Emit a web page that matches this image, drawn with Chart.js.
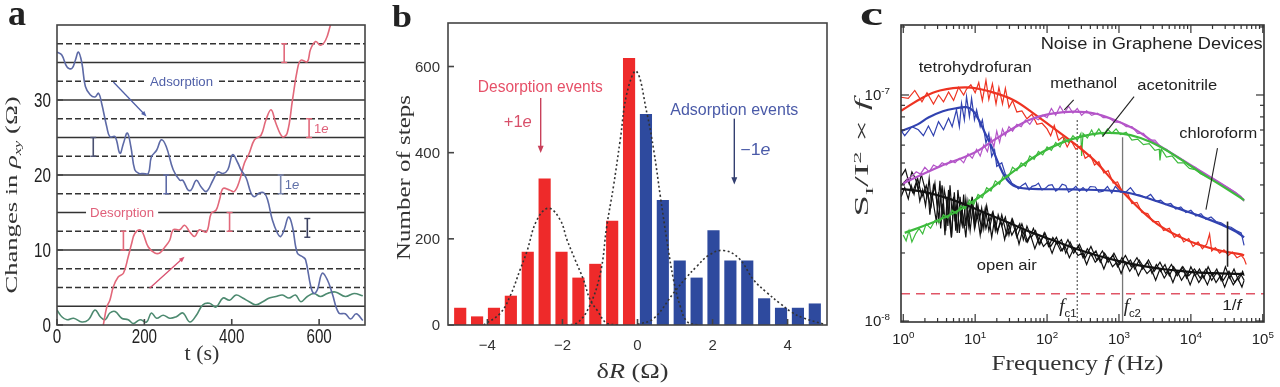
<!DOCTYPE html>
<html>
<head>
<meta charset="utf-8">
<script src="https://cdn.jsdelivr.net/npm/chart.js@4.4.1/dist/chart.umd.min.js"></script>
<style>
  html, body { margin: 0; padding: 0; background: #fff; }
  #wrap { position: relative; width: 1280px; height: 387px; overflow: hidden; }
  canvas { position: absolute; top: 0; }
</style>
</head>
<body>
<div id="wrap">
  <canvas id="chartA" width="370" height="387" style="left:0"></canvas>
  <canvas id="chartB" width="465" height="387" style="left:370px"></canvas>
  <canvas id="chartC" width="445" height="387" style="left:835px"></canvas>
</div>
<script>
const SERIF = "'Liberation Serif', 'Times New Roman', serif";
const SANS = "'Liberation Sans', Arial, sans-serif";

// ---------- panel a : changes in rho_xy against time ----------
const aXTicks = [0, 200, 400, 600];
const aYTicks = [0, 10, 20, 30];
const aSolidLevels = [2.5, 10, 15, 20, 25, 30, 35];
const aDashedLevels = [5, 7.5, 12.5, 17.5, 22.5, 27.5, 32.5, 37.5];
// [t (s), change in rho_xy (ohm)]
const aAdsorption = [[0,36.4],[11,36],[23,34.4],[34,34.2],[42,35.3],[49,36.4],[57,34.9],[65,31.8],[76,30.7],[87,30.4],[95,30.9],[102,29.6],[114,26.4],[121,25.1],[133,25.1],[144,22.9],[152,24.2],[161,25.6],[169,23.8],[178,20.7],[188,20.2],[197,20.2],[209,20.2],[216,22.4],[228,23.3],[239,24.7],[250,23.8],[266,20.7],[281,19.3],[288,19.3],[300,18],[307,18],[319,19.3],[330,18.4],[342,17.8],[357,19.3],[368,20.4],[380,20.2],[391,20.7],[402,22.7],[414,21.6],[421,20.7],[433,19.6],[444,17.6],[452,17.1],[463,17.6],[474,17.6],[482,16.7],[493,14],[505,12.2],[512,11.8],[520,12.7],[530,14.4],[539,13.1],[550,9.6],[562,9.1],[569,8.7],[581,5.1],[588,4.2],[596,4.7],[607,6.9],[619,6],[630,4.2],[645,1.6],[660,1.5],[672,0.8],[685,1.5],[700,0.6]];
const aDesorption = [[106,0],[114,2.4],[121,3.3],[129,5.1],[140,6.4],[152,6.9],[163,9.1],[171,10.9],[178,12.2],[190,12.7],[197,12.2],[209,10.4],[224,9.6],[235,9.6],[247,10.4],[258,11.3],[266,12.7],[281,12.7],[292,13.3],[304,12.4],[315,11.8],[326,12.7],[342,12.4],[353,14.9],[364,15.3],[372,16.7],[380,18.2],[395,18],[406,17.8],[417,19.1],[429,21.6],[440,22.9],[452,24.7],[467,25.3],[478,27.3],[490,28.7],[501,26.9],[516,25.1],[527,25.6],[539,30],[550,34],[558,35.3],[573,35.1],[580,36.7],[592,37.8],[603,37.3],[615,38],[626,40],[640,42.5]];
const aReference = [[0,2],[11,1.1],[23,0.7],[38,0.9],[57,0.4],[72,0.7],[87,2],[99,1.1],[110,0.7],[121,1.6],[133,1.8],[148,0.9],[163,0.7],[175,0.2],[190,0.7],[205,0.4],[216,1.6],[228,0.9],[243,1.3],[258,0.9],[273,1.1],[288,1.6],[304,0.4],[319,1.3],[334,2.7],[349,2.9],[364,2.4],[380,3.6],[395,3.3],[410,4],[425,3.6],[440,3.1],[455,2.7],[471,3.1],[486,3.6],[501,3.8],[516,4],[531,3.6],[546,4],[558,3.1],[573,3.8],[588,4.2],[603,3.8],[619,4.2],[637,4.4],[660,3.8],[680,4.2],[700,3.9]];

// ---------- panel b : histogram of step sizes ----------
const bXTicks = [-4, -2, 0, 2, 4];
const bYTicks = [0, 200, 400, 600];
const bDesorbBins = [-4.725, -4.275, -3.825, -3.375, -2.925, -2.475, -2.025, -1.575, -1.125, -0.675, -0.225];
const bDesorbCounts = [40, 20, 40, 68, 170, 340, 170, 110, 142, 242, 620];
const bAdsorbBins = [0.225, 0.675, 1.125, 1.575, 2.025, 2.475, 2.925, 3.375, 3.825, 4.275, 4.725];
const bAdsorbCounts = [490, 290, 150, 110, 220, 150, 150, 62, 40, 40, 50];
const bFitLeft = [[-4.1,0],[-3.66,27],[-3.39,68],[-3.13,128],[-2.95,170],[-2.68,244],[-2.37,271],[-2.06,244],[-1.88,198],[-1.66,151],[-1.44,105],[-1.26,58],[-1.08,35],[-0.82,4],[-0.5,0]];
const bFitMid = [[-1.9,0],[-1.62,4],[-1.3,40],[-0.99,120],[-0.82,229],[-0.64,322],[-0.46,430],[-0.28,539],[-0.03,589],[0.25,492],[0.43,407],[0.61,298],[0.78,198],[0.96,105],[1.14,43],[1.32,8],[1.6,0]];
const bFitRight = [[0,1],[0.43,15],[0.96,74],[1.3,110],[1.58,136],[1.9,162],[2.29,173],[2.7,155],[3.09,105],[3.45,75],[3.8,50],[4.1,30],[4.43,16],[4.96,2]];

// ---------- panel c : noise spectra, pairs are [log10 f, log10(S / 1e-8)] ----------
const cXTicks = [1, 10, 100, 1e3, 1e4, 1e5];
const cYTicks = [1e-8, 1e-7];
const thfFit = [[-0.03,0.93],[0.28,0.99],[0.51,1.02],[0.88,1.034],[1.21,1.015],[1.53,0.978],[1.81,0.919],[2.09,0.853],[2.37,0.787],[2.65,0.713],[2.93,0.615],[3.21,0.52],[3.53,0.43],[3.86,0.37],[4.14,0.335],[4.42,0.31],[4.70,0.295],[4.74,0.29]];
const thfData = [[-0.03,0.99],[0.07,0.985],[0.16,1.02],[0.26,0.97],[0.33,1.01],[0.42,0.96],[0.49,1.0],[0.56,0.97],[0.63,1.013],[0.70,0.976],[0.77,1.034],[0.84,1.0],[0.88,1.026],[0.94,1.045],[1.0,1.01],[1.05,1.055],[1.10,0.975],[1.15,1.065],[1.19,0.98],[1.24,1.05],[1.29,0.96],[1.33,1.034],[1.38,0.96],[1.42,1.03],[1.47,0.945],[1.52,0.975],[1.58,0.925],[1.65,0.93],[1.72,0.895],[1.79,0.915],[1.86,0.87],[1.93,0.875],[2.0,0.85],[2.05,0.82],[2.10,0.865],[2.16,0.80],[2.22,0.815],[2.28,0.77],[2.33,0.80],[2.40,0.76],[2.47,0.775],[2.53,0.72],[2.60,0.735],[2.66,0.69],[2.72,0.705],[2.79,0.655],[2.85,0.665],[2.92,0.61],[2.98,0.615],[3.05,0.57],[3.12,0.565],[3.18,0.52],[3.25,0.525],[3.32,0.48],[3.40,0.475],[3.47,0.44],[3.55,0.44],[3.62,0.40],[3.70,0.41],[3.77,0.37],[3.84,0.385],[3.90,0.35],[3.97,0.365],[4.03,0.33],[4.10,0.35],[4.16,0.32],[4.22,0.34],[4.26,0.385],[4.29,0.31],[4.34,0.325],[4.40,0.30],[4.46,0.315],[4.52,0.29],[4.58,0.305],[4.64,0.28],[4.70,0.29],[4.74,0.275],[4.77,0.25]];
const chlFit = [[-0.03,0.84],[0.2,0.87],[0.35,0.9],[0.55,0.928],[0.75,0.942],[0.88,0.946],[0.97,0.93],[1.05,0.89],[1.14,0.83],[1.23,0.77],[1.32,0.7],[1.42,0.635],[1.53,0.6],[1.72,0.586],[2.37,0.582],[3.0,0.574],[3.3,0.553],[3.58,0.524],[3.86,0.494],[4.14,0.463],[4.42,0.427],[4.63,0.395],[4.74,0.37]];
const chlData = [[-0.07,0.86],[0.02,0.82],[0.12,0.86],[0.21,0.846],[0.28,0.82],[0.35,0.863],[0.42,0.82],[0.49,0.882],[0.56,0.846],[0.63,0.897],[0.68,0.86],[0.74,0.934],[0.78,0.86],[0.81,0.963],[0.85,0.89],[0.88,0.993],[0.92,0.904],[0.95,0.985],[0.99,0.89],[1.02,0.934],[1.07,0.86],[1.10,0.89],[1.15,0.787],[1.19,0.83],[1.23,0.728],[1.27,0.757],[1.30,0.684],[1.37,0.7],[1.42,0.65],[1.47,0.632],[1.51,0.61],[1.56,0.6],[1.60,0.585],[1.65,0.6],[1.70,0.61],[1.75,0.58],[1.79,0.596],[1.84,0.6],[1.88,0.61],[1.93,0.58],[1.98,0.588],[2.02,0.6],[2.07,0.603],[2.12,0.575],[2.16,0.584],[2.21,0.605],[2.26,0.6],[2.30,0.57],[2.35,0.581],[2.40,0.596],[2.45,0.575],[2.50,0.59],[2.55,0.574],[2.60,0.595],[2.67,0.593],[2.72,0.57],[2.78,0.574],[2.84,0.595],[2.90,0.566],[2.95,0.596],[3.02,0.57],[3.09,0.569],[3.16,0.59],[3.23,0.56],[3.30,0.556],[3.37,0.545],[3.44,0.56],[3.51,0.53],[3.58,0.535],[3.65,0.515],[3.72,0.52],[3.79,0.495],[3.86,0.505],[3.93,0.48],[4.0,0.49],[4.07,0.465],[4.14,0.475],[4.21,0.45],[4.28,0.46],[4.35,0.44],[4.42,0.435],[4.49,0.42],[4.56,0.415],[4.63,0.4],[4.70,0.39],[4.74,0.335]];
const metFit = [[0.0,0.61],[0.51,0.684],[0.98,0.743],[1.26,0.80],[1.53,0.853],[1.81,0.897],[2.09,0.919],[2.37,0.926],[2.65,0.919],[2.93,0.89],[3.21,0.85],[3.49,0.79],[3.77,0.735],[4.05,0.68],[4.33,0.625],[4.60,0.57],[4.74,0.535]];
const metData = [[0.0,0.60],[0.06,0.63],[0.12,0.64],[0.18,0.66],[0.24,0.65],[0.30,0.68],[0.36,0.66],[0.42,0.69],[0.48,0.68],[0.54,0.70],[0.60,0.69],[0.66,0.71],[0.72,0.70],[0.78,0.72],[0.84,0.70],[0.90,0.74],[0.96,0.72],[1.02,0.76],[1.07,0.73],[1.12,0.78],[1.17,0.75],[1.22,0.81],[1.26,0.77],[1.30,0.84],[1.34,0.79],[1.38,0.85],[1.42,0.82],[1.47,0.86],[1.52,0.84],[1.58,0.87],[1.64,0.86],[1.70,0.89],[1.76,0.87],[1.82,0.90],[1.88,0.89],[1.94,0.91],[2.0,0.90],[2.06,0.94],[2.12,0.91],[2.18,0.95],[2.24,0.92],[2.30,0.95],[2.36,0.92],[2.42,0.94],[2.48,0.91],[2.55,0.93],[2.62,0.91],[2.70,0.92],[2.78,0.90],[2.86,0.90],[2.94,0.88],[3.02,0.88],[3.10,0.86],[3.18,0.86],[3.26,0.83],[3.34,0.83],[3.42,0.80],[3.50,0.80],[3.58,0.77],[3.66,0.76],[3.74,0.74],[3.82,0.725],[3.90,0.71],[3.98,0.69],[4.06,0.68],[4.14,0.66],[4.22,0.645],[4.30,0.63],[4.38,0.615],[4.46,0.60],[4.54,0.585],[4.62,0.57],[4.70,0.55],[4.74,0.53]];
const aceFit = [[0.02,0.39],[0.28,0.42],[0.51,0.449],[0.79,0.493],[1.07,0.551],[1.35,0.618],[1.63,0.684],[1.91,0.743],[2.19,0.787],[2.47,0.816],[2.74,0.831],[3.02,0.83],[3.30,0.81],[3.58,0.77],[3.86,0.715],[4.14,0.655],[4.42,0.6],[4.74,0.535]];
const aceData = [[0.0,0.38],[0.04,0.355],[0.08,0.40],[0.12,0.35],[0.17,0.385],[0.22,0.41],[0.27,0.385],[0.32,0.43],[0.38,0.41],[0.44,0.445],[0.50,0.435],[0.56,0.47],[0.62,0.455],[0.68,0.49],[0.74,0.475],[0.80,0.51],[0.86,0.495],[0.92,0.535],[0.98,0.515],[1.04,0.56],[1.10,0.545],[1.16,0.59],[1.22,0.575],[1.28,0.62],[1.34,0.605],[1.40,0.65],[1.46,0.635],[1.52,0.68],[1.58,0.665],[1.64,0.70],[1.70,0.685],[1.76,0.73],[1.82,0.715],[1.88,0.75],[1.94,0.735],[2.0,0.77],[2.06,0.755],[2.12,0.79],[2.18,0.77],[2.24,0.81],[2.30,0.79],[2.36,0.82],[2.42,0.80],[2.47,0.83],[2.48,0.73],[2.50,0.83],[2.56,0.81],[2.62,0.845],[2.66,0.82],[2.72,0.85],[2.78,0.82],[2.84,0.85],[2.90,0.83],[2.96,0.85],[3.02,0.825],[3.10,0.835],[3.18,0.80],[3.26,0.805],[3.34,0.78],[3.42,0.785],[3.50,0.755],[3.56,0.76],[3.57,0.71],[3.59,0.76],[3.66,0.725],[3.74,0.73],[3.82,0.70],[3.90,0.70],[3.98,0.675],[4.06,0.67],[4.14,0.65],[4.22,0.64],[4.30,0.625],[4.38,0.61],[4.46,0.595],[4.54,0.58],[4.62,0.565],[4.70,0.545],[4.74,0.53]];
const airFit = [[-0.03,0.585],[0.3,0.57],[0.6,0.545],[0.9,0.51],[1.2,0.47],[1.5,0.43],[1.8,0.39],[2.1,0.355],[2.4,0.32],[2.7,0.29],[3.0,0.265],[3.3,0.245],[3.6,0.23],[3.9,0.22],[4.2,0.213],[4.5,0.21],[4.74,0.208]];
const airData1 = [[-0.03,0.64],[0.03,0.67],[0.08,0.61],[0.12,0.66],[0.17,0.63],[0.21,0.58],[0.25,0.65],[0.29,0.60],[0.33,0.55],[0.36,0.63],[0.39,0.52],[0.42,0.60],[0.45,0.57],[0.48,0.50],[0.51,0.62],[0.54,0.46],[0.57,0.58],[0.60,0.53],[0.62,0.42],[0.65,0.60],[0.68,0.47],[0.70,0.55],[0.73,0.40],[0.76,0.58],[0.79,0.49],[0.81,0.44],[0.84,0.56],[0.87,0.42],[0.90,0.53],[0.93,0.47],[0.96,0.55],[0.99,0.43],[1.02,0.52],[1.06,0.45],[1.09,0.50],[1.12,0.41],[1.16,0.51],[1.20,0.44],[1.24,0.48],[1.28,0.40],[1.32,0.47],[1.37,0.42],[1.42,0.46],[1.47,0.38],[1.52,0.45],[1.57,0.40],[1.62,0.43],[1.67,0.36],[1.72,0.42],[1.78,0.37],[1.84,0.40],[1.90,0.34],[1.96,0.39],[2.02,0.33],[2.08,0.37],[2.14,0.34],[2.20,0.36],[2.26,0.30],[2.32,0.35],[2.38,0.31],[2.44,0.33],[2.50,0.28],[2.56,0.32],[2.62,0.29],[2.68,0.31],[2.74,0.26],[2.80,0.30],[2.86,0.27],[2.92,0.29],[2.98,0.24],[3.04,0.28],[3.10,0.25],[3.16,0.27],[3.22,0.23],[3.28,0.27],[3.34,0.24],[3.40,0.26],[3.46,0.21],[3.52,0.25],[3.58,0.22],[3.64,0.25],[3.70,0.20],[3.76,0.24],[3.82,0.21],[3.88,0.24],[3.94,0.19],[4.00,0.24],[4.06,0.20],[4.12,0.23],[4.18,0.19],[4.24,0.24],[4.30,0.20],[4.36,0.23],[4.42,0.18],[4.48,0.24],[4.54,0.19],[4.60,0.23],[4.66,0.18],[4.72,0.22],[4.74,0.20]];
const airData2 = [[-0.03,0.55],[0.02,0.59],[0.07,0.54],[0.11,0.60],[0.15,0.56],[0.19,0.62],[0.23,0.53],[0.27,0.58],[0.31,0.51],[0.34,0.59],[0.37,0.47],[0.40,0.56],[0.43,0.50],[0.46,0.44],[0.49,0.57],[0.52,0.41],[0.55,0.52],[0.58,0.38],[0.61,0.55],[0.64,0.45],[0.67,0.37],[0.70,0.52],[0.72,0.44],[0.75,0.53],[0.78,0.39],[0.81,0.50],[0.84,0.45],[0.87,0.37],[0.90,0.49],[0.93,0.40],[0.97,0.51],[1.00,0.42],[1.03,0.47],[1.07,0.38],[1.11,0.48],[1.15,0.41],[1.19,0.46],[1.23,0.37],[1.27,0.45],[1.31,0.40],[1.36,0.44],[1.41,0.36],[1.46,0.43],[1.51,0.38],[1.56,0.41],[1.61,0.34],[1.66,0.40],[1.71,0.35],[1.77,0.38],[1.83,0.32],[1.89,0.37],[1.95,0.33],[2.01,0.35],[2.07,0.30],[2.13,0.35],[2.19,0.31],[2.25,0.33],[2.31,0.28],[2.37,0.32],[2.43,0.29],[2.49,0.30],[2.55,0.25],[2.61,0.30],[2.67,0.26],[2.73,0.28],[2.79,0.23],[2.85,0.28],[2.91,0.24],[2.97,0.26],[3.03,0.21],[3.09,0.26],[3.15,0.22],[3.21,0.25],[3.27,0.20],[3.33,0.24],[3.39,0.21],[3.45,0.23],[3.51,0.18],[3.57,0.23],[3.63,0.19],[3.69,0.22],[3.75,0.17],[3.81,0.22],[3.87,0.18],[3.93,0.21],[3.99,0.16],[4.05,0.21],[4.11,0.17],[4.17,0.20],[4.23,0.16],[4.29,0.21],[4.35,0.17],[4.41,0.20],[4.47,0.15],[4.53,0.20],[4.59,0.16],[4.65,0.19],[4.71,0.15],[4.74,0.18]];
const airData3 = [[-0.03,0.60],[0.06,0.63],[0.13,0.57],[0.20,0.63],[0.26,0.55],[0.32,0.60],[0.38,0.50],[0.44,0.61],[0.49,0.45],[0.54,0.60],[0.59,0.40],[0.63,0.58],[0.67,0.37],[0.71,0.57],[0.75,0.39],[0.79,0.55],[0.83,0.41],[0.87,0.54],[0.91,0.42],[0.95,0.53],[0.99,0.41],[1.04,0.51],[1.09,0.40],[1.14,0.50],[1.19,0.40],[1.25,0.48],[1.31,0.39],[1.37,0.47],[1.44,0.38],[1.51,0.45],[1.58,0.37],[1.65,0.43],[1.73,0.35],[1.81,0.41],[1.89,0.34],[1.97,0.39],[2.05,0.33],[2.13,0.37],[2.21,0.31],[2.29,0.36],[2.37,0.30],[2.45,0.34],[2.53,0.28],[2.61,0.33],[2.69,0.27],[2.77,0.31],[2.85,0.26],[2.93,0.30],[3.01,0.25],[3.09,0.29],[3.17,0.24],[3.25,0.28],[3.33,0.23],[3.41,0.27],[3.49,0.22],[3.57,0.26],[3.65,0.21],[3.73,0.25],[3.81,0.20],[3.89,0.24],[3.97,0.20],[4.05,0.23],[4.13,0.19],[4.21,0.23],[4.29,0.18],[4.37,0.22],[4.45,0.18],[4.53,0.22],[4.61,0.17],[4.69,0.21],[4.74,0.18]];
const fc1 = 263, fc1Top = 7.9e-8;
const fc2 = 1122, fc2Top = 6.5e-8;
const oneOverF = 1.32e-8;

// ---------- helpers ----------
function rich(ctx, parts, x, y, o) {
  const size = o.size;
  const fontFor = f => {
    const small = f.includes('_') || f.includes('^');
    const sz = small ? size * (o.subScale || 0.62) : size;
    const fam = f.includes('s') ? SANS : f.includes('r') ? SERIF : (o.family || SERIF);
    return (f.includes('i') ? 'italic ' : '') + (f.includes('b') ? 'bold ' : '') + sz.toFixed(1) + 'px ' + fam;
  };
  ctx.save();
  let W = 0;
  const ws = parts.map(([t, f = '']) => { ctx.font = fontFor(f); const w = ctx.measureText(t).width; W += w; return w; });
  const sx = o.w ? o.w / W : (o.sx || 1);
  ctx.translate(x, y);
  if (o.rot) ctx.rotate(o.rot);
  ctx.scale(sx, o.sy || 1);
  let cx = o.align === 'left' ? 0 : o.align === 'right' ? -W : -W / 2;
  const base = o.base ? 0 : size * 0.35;
  if (o.bg) {
    ctx.fillStyle = o.bg;
    ctx.fillRect(cx - 4, base - size * 0.85, W + 8, size * 1.05);
  }
  ctx.fillStyle = o.color || '#222';
  ctx.textBaseline = 'alphabetic';
  ctx.textAlign = 'left';
  parts.forEach(([t, f = ''], k) => {
    ctx.font = fontFor(f);
    let dy = base;
    if (f.includes('_')) dy += size * 0.25;
    if (f.includes('^')) dy -= size * 0.42;
    ctx.fillText(t, cx, dy);
    cx += ws[k];
  });
  ctx.restore();
}

function arrow(ctx, x0, y0, x1, y1, color, head, lw) {
  const ang = Math.atan2(y1 - y0, x1 - x0);
  ctx.save();
  ctx.strokeStyle = color; ctx.fillStyle = color; ctx.lineWidth = lw || 1.4;
  ctx.beginPath();
  ctx.moveTo(x0, y0);
  ctx.lineTo(x1 - Math.cos(ang) * head * 0.7, y1 - Math.sin(ang) * head * 0.7);
  ctx.stroke();
  ctx.beginPath();
  ctx.moveTo(x1, y1);
  ctx.lineTo(x1 - head * Math.cos(ang - 0.38), y1 - head * Math.sin(ang - 0.38));
  ctx.lineTo(x1 - head * Math.cos(ang + 0.38), y1 - head * Math.sin(ang + 0.38));
  ctx.closePath();
  ctx.fill();
  ctx.restore();
}

function seg(ctx, x0, y0, x1, y1, color, lw, dash) {
  ctx.save();
  ctx.strokeStyle = color; ctx.lineWidth = lw;
  ctx.setLineDash(dash || []);
  ctx.beginPath(); ctx.moveTo(x0, y0); ctx.lineTo(x1, y1); ctx.stroke();
  ctx.restore();
}

// box round the plot and ticks pointing inwards
function frame(chart, o) {
  const ctx = chart.ctx, a = chart.chartArea, xs = chart.scales.x, ys = chart.scales.y;
  ctx.save();
  ctx.strokeStyle = o.color; ctx.lineWidth = o.lw;
  ctx.strokeRect(a.left, a.top, a.right - a.left, a.bottom - a.top);
  ctx.lineWidth = o.tlw || o.lw;
  const xt = (v, len) => {
    const p = xs.getPixelForValue(v);
    ctx.beginPath(); ctx.moveTo(p, a.bottom); ctx.lineTo(p, a.bottom - len); ctx.stroke();
    if (o.top) { ctx.beginPath(); ctx.moveTo(p, a.top); ctx.lineTo(p, a.top + len); ctx.stroke(); }
  };
  const yt = (v, len) => {
    const p = ys.getPixelForValue(v);
    ctx.beginPath(); ctx.moveTo(a.left, p); ctx.lineTo(a.left + len, p); ctx.stroke();
    if (o.right) { ctx.beginPath(); ctx.moveTo(a.right, p); ctx.lineTo(a.right - len, p); ctx.stroke(); }
  };
  xs.ticks.forEach(t => xt(t.value, o.len));
  ys.ticks.forEach(t => yt(t.value, o.len));
  (o.xMinor || []).forEach(v => xt(v, o.minorLen));
  (o.yMinor || []).forEach(v => yt(v, o.minorLen));
  ctx.restore();
}

const pairs = arr => arr.map(([x, y]) => ({ x, y }));
const logPts = arr => arr.map(([lf, ls]) => ({ x: 10 ** lf, y: 1e-8 * 10 ** ls }));
const setTicks = list => s => { s.ticks = list.map(v => ({ value: v })); };
const baseOptions = pad => ({
  responsive: false,
  animation: false,
  events: [],
  layout: { padding: pad },
  plugins: { legend: { display: false }, tooltip: { enabled: false } },
  elements: { point: { radius: 0 } }
});
const hiddenAxis = extra => Object.assign({
  grid: { display: false },
  border: { display: false },
  ticks: { display: false }
}, extra);

// ---------- chart a ----------
const A_BLUE = '#5d6aa6', A_RED = '#e2687a', A_GREEN = '#4d8a70', A_LINE = '#333';
const optsA = baseOptions({ top: 25, right: 5, left: 0, bottom: 0 });
optsA.scales = {
  x: hiddenAxis({ type: 'linear', min: 0, max: 705, afterBuildTicks: setTicks(aXTicks), afterFit: s => { s.height = 62; } }),
  y: hiddenAxis({ type: 'linear', min: 0, max: 40, afterBuildTicks: setTicks(aYTicks), afterFit: s => { s.width = 57; } })
};
new Chart(document.getElementById('chartA'), {
  type: 'line',
  data: {
    datasets: [
      { data: pairs(aAdsorption), borderColor: A_BLUE, borderWidth: 1.6, tension: 0.4, order: 0 },
      { data: pairs(aDesorption), borderColor: A_RED, borderWidth: 1.6, tension: 0.4, order: 1 },
      { data: pairs(aReference), borderColor: A_GREEN, borderWidth: 1.6, tension: 0.4, order: 2 }
    ]
  },
  options: optsA,
  plugins: [{
    id: 'panelA',
    beforeDatasetsDraw(chart) {
      const ctx = chart.ctx, a = chart.chartArea, xs = chart.scales.x, ys = chart.scales.y;
      aSolidLevels.forEach(v => seg(ctx, a.left, ys.getPixelForValue(v), a.right, ys.getPixelForValue(v), A_LINE, 1.5));
      aDashedLevels.forEach(v => seg(ctx, a.left, ys.getPixelForValue(v), a.right, ys.getPixelForValue(v), A_LINE, 1.5, [6, 3]));
      rich(ctx, [['Adsorption', 's']], xs.getPixelForValue(285), ys.getPixelForValue(32.5), { size: 13, w: 63, color: '#5060a8', bg: '#fff' });
      rich(ctx, [['Desorption', 's']], xs.getPixelForValue(149), ys.getPixelForValue(15), { size: 13, w: 64, color: '#e0607a', bg: '#fff' });
    },
    afterDatasetsDraw(chart) {
      const ctx = chart.ctx, xs = chart.scales.x, ys = chart.scales.y;
      const X = v => xs.getPixelForValue(v), Y = v => ys.getPixelForValue(v);
      const bars = [
        [83, 22.5, 25, '#4a5070'], [250, 17.5, 20, A_BLUE], [512, 17.5, 20, '#7a86b0'], [573, 11.7, 14.2, '#3a4060'],
        [152, 10, 12.5, A_RED], [395, 12.5, 15, A_RED], [577, 25, 27.5, A_RED], [520, 35, 37.5, A_RED]
      ];
      bars.forEach(([t, y0, y1, c]) => {
        seg(ctx, X(t), Y(y0), X(t), Y(y1), c, 1.6);
        seg(ctx, X(t) - 3, Y(y0), X(t) + 3, Y(y0), c, 1.4);
        seg(ctx, X(t) - 3, Y(y1), X(t) + 3, Y(y1), c, 1.4);
      });
      rich(ctx, [['1', 's'], ['e', 'si']], X(538), Y(18.7), { size: 13, color: '#6070a8' });
      rich(ctx, [['1', 's'], ['e', 'si']], X(605), Y(26.2), { size: 13, color: '#e0607a' });
      arrow(ctx, X(129), Y(32.4), X(205), Y(27.8), '#5060a8', 6, 1.3);
      arrow(ctx, X(212), Y(4.9), X(292), Y(9.1), '#d85070', 6, 1.3);
    },
    afterDraw(chart) {
      const ctx = chart.ctx, xs = chart.scales.x, ys = chart.scales.y;
      frame(chart, { color: '#444', lw: 1.6, len: 6 });
      aXTicks.forEach(v => rich(ctx, [[String(v), 's']], xs.getPixelForValue(v), 336, { size: 20, sx: 0.76, color: '#222' }));
      aYTicks.forEach(v => rich(ctx, [[String(v), 's']], 51, ys.getPixelForValue(v), { size: 20, sx: 0.76, align: 'right', color: '#222' }));
      rich(ctx, [['t (s)']], 202, 352, { size: 22, color: '#333' });
      rich(ctx, [['Changes in '], ['ρ', 'i'], ['xy', 'i_'], [' (Ω)']], 11, 195, { size: 17, w: 197, rot: -Math.PI / 2, color: '#333' });
      rich(ctx, [['a', 'b']], 8, 25, { size: 36, align: 'left', base: true, color: '#222' });
    }
  }]
});

// ---------- chart b ----------
const B_RED = '#ee2a2a', B_BLUE = '#2e4a9e';
const optsB = baseOptions({ top: 23, right: 8, left: 0, bottom: 0 });
optsB.scales = {
  x: hiddenAxis({ type: 'linear', min: -5.05, max: 5.05, offset: false, afterBuildTicks: setTicks(bXTicks), afterFit: s => { s.height = 62; } }),
  y: hiddenAxis({ type: 'linear', min: 0, max: 701, afterBuildTicks: setTicks(bYTicks), afterFit: s => { s.width = 78; } })
};
const fitStyle = { type: 'line', borderColor: '#333', borderWidth: 1.6, borderDash: [2, 2.5], tension: 0.4, order: 0 };
new Chart(document.getElementById('chartB'), {
  type: 'bar',
  data: {
    datasets: [
      { data: bDesorbBins.map((x, k) => ({ x, y: bDesorbCounts[k] })), backgroundColor: B_RED, grouped: false, barPercentage: 0.8, categoryPercentage: 0.9, order: 1 },
      { data: bAdsorbBins.map((x, k) => ({ x, y: bAdsorbCounts[k] })), backgroundColor: B_BLUE, grouped: false, barPercentage: 0.8, categoryPercentage: 0.9, order: 1 },
      Object.assign({ data: pairs(bFitLeft) }, fitStyle),
      Object.assign({ data: pairs(bFitMid) }, fitStyle),
      Object.assign({ data: pairs(bFitRight) }, fitStyle)
    ]
  },
  options: optsB,
  plugins: [{
    id: 'panelB',
    afterDatasetsDraw(chart) {
      const ctx = chart.ctx, xs = chart.scales.x, ys = chart.scales.y;
      const X = v => xs.getPixelForValue(v), Y = v => ys.getPixelForValue(v);
      rich(ctx, [['Desorption events', 's']], X(-2.59), Y(554), { size: 16, w: 125, color: '#e65068' });
      rich(ctx, [['+1', 's'], ['e', 'si']], X(-3.19), Y(473), { size: 16, w: 28, color: '#d8506a' });
      arrow(ctx, X(-2.58), Y(527), X(-2.58), Y(399), '#c8405a', 8, 1.4);
      rich(ctx, [['Adsorption events', 's']], X(2.58), Y(501), { size: 16, w: 128, color: '#4a5aa8' });
      rich(ctx, [['−1', 's'], ['e', 'si']], X(3.14), Y(407), { size: 16, w: 30, color: '#4a5aa8' });
      arrow(ctx, X(2.58), Y(479), X(2.58), Y(326), '#333f70', 8, 1.4);
    },
    afterDraw(chart) {
      const ctx = chart.ctx, xs = chart.scales.x, ys = chart.scales.y;
      frame(chart, { color: '#444', lw: 1.6, len: 6 });
      bXTicks.forEach(v => rich(ctx, [[String(v).replace('-', '−'), 's']], xs.getPixelForValue(v), 345, { size: 15, color: '#333' }));
      bYTicks.forEach(v => rich(ctx, [[String(v), 's']], 70, ys.getPixelForValue(v), { size: 15, align: 'right', color: '#333' }));
      rich(ctx, [['δ'], ['R', 'i'], [' (Ω)']], 262.5, 370, { size: 22, w: 72, color: '#333' });
      rich(ctx, [['Number of steps']], 33, 177.5, { size: 19, w: 165, rot: -Math.PI / 2, color: '#333' });
      rich(ctx, [['b', 'b']], 22, 27, { size: 32, w: 20, align: 'left', base: true, color: '#222' });
    }
  }]
});

// ---------- chart c ----------
const C_RED = '#ee3322', C_BLUE = '#3142b0', C_PURPLE = '#b455c8', C_GREEN = '#3dbb3d', C_BLACK = '#111';
const optsC = baseOptions({ top: 25, right: 16, left: 0, bottom: 0 });
optsC.scales = {
  x: hiddenAxis({ type: 'logarithmic', min: 0.93, max: 1.04e5, afterBuildTicks: setTicks(cXTicks), afterFit: s => { s.height = 65; } }),
  y: hiddenAxis({ type: 'logarithmic', min: 0.99e-8, max: 2.04e-7, afterBuildTicks: setTicks(cYTicks), afterFit: s => { s.width = 66; } })
};
const noisy = (arr, color, order) => ({ data: logPts(arr), borderColor: color, borderWidth: 1.2, tension: 0, order });
const smooth = (arr, color) => ({ data: logPts(arr), borderColor: color, borderWidth: 2.2, tension: 0.4, order: 0 });
const xMinorC = [], yMinorC = [];
[1, 10, 100, 1e3, 1e4].forEach(d => { for (let k = 2; k <= 9; k++) xMinorC.push(k * d); });
for (let k = 2; k <= 9; k++) yMinorC.push(k * 1e-8);
yMinorC.push(2e-7);
new Chart(document.getElementById('chartC'), {
  type: 'line',
  data: {
    datasets: [
      { data: [{ x: 0.93, y: oneOverF }, { x: 1.04e5, y: oneOverF }], borderColor: '#e05566', borderWidth: 1.6, borderDash: [9, 6], order: 9 },
      { data: [{ x: fc1, y: 0.99e-8 }, { x: fc1, y: fc1Top }], borderColor: '#666', borderWidth: 1.3, borderDash: [2, 2], order: 8 },
      { data: [{ x: fc2, y: 0.99e-8 }, { x: fc2, y: fc2Top }], borderColor: '#777', borderWidth: 1.3, order: 8 },
      noisy(airData1, C_BLACK, 6), noisy(airData2, C_BLACK, 6), noisy(airData3, C_BLACK, 6),
      noisy(aceData, C_GREEN, 5), noisy(metData, C_PURPLE, 4), noisy(chlData, C_BLUE, 3), noisy(thfData, C_RED, 2),
      smooth(airFit, C_BLACK), smooth(aceFit, C_GREEN), smooth(metFit, C_PURPLE), smooth(chlFit, C_BLUE), smooth(thfFit, C_RED)
    ]
  },
  options: optsC,
  plugins: [{
    id: 'panelC',
    afterDatasetsDraw(chart) {
      const ctx = chart.ctx, xs = chart.scales.x, ys = chart.scales.y;
      const X = lf => xs.getPixelForValue(10 ** lf), Y = ls => ys.getPixelForValue(1e-8 * 10 ** ls);
      const T = '#222';
      rich(ctx, [['Noise in Graphene Devices', 's']], X(3.455), Y(1.229), { size: 17, w: 222, color: T });
      rich(ctx, [['tetrohydrofuran', 's']], X(1.0), Y(1.125), { size: 15, w: 113, color: T });
      rich(ctx, [['methanol', 's']], X(2.51), Y(1.052), { size: 15, w: 67, color: T });
      rich(ctx, [['acetonitrile', 's']], X(3.81), Y(1.044), { size: 15, w: 80, color: T });
      rich(ctx, [['chloroform', 's']], X(4.38), Y(0.831), { size: 15, w: 78, color: T });
      rich(ctx, [['open air', 's']], X(1.44), Y(0.25), { size: 15, w: 60, color: T });
      rich(ctx, [['f', 'ri'], ['c1', 's_']], X(2.17), Y(0.07), { size: 19, align: 'left', subScale: 0.6, color: T });
      rich(ctx, [['f', 'ri'], ['c2', 's_']], X(3.065), Y(0.07), { size: 19, align: 'left', subScale: 0.6, color: T });
      rich(ctx, [['1/', 's'], ['f', 'si']], X(4.57), Y(0.074), { size: 15, w: 19, color: T });
      seg(ctx, X(2.37), Y(0.978), X(2.24), Y(0.934), T, 1.1);
      seg(ctx, X(3.21), Y(0.993), X(2.77), Y(0.816), T, 1.1);
      seg(ctx, X(4.37), Y(0.765), X(4.21), Y(0.493), T, 1.1);
      seg(ctx, X(4.51), Y(0.44), X(4.51), Y(0.24), T, 1.6);
    },
    afterDraw(chart) {
      const ctx = chart.ctx, xs = chart.scales.x, ys = chart.scales.y;
      frame(chart, { color: '#333', lw: 1.6, tlw: 1.2, len: 8, minorLen: 4, top: true, right: true, xMinor: xMinorC, yMinor: yMinorC });
      cXTicks.forEach(v => rich(ctx, [['10', 's'], [String(Math.round(Math.log10(v))), 's^']], xs.getPixelForValue(v), 339, { size: 15, subScale: 0.65, color: '#222' }));
      cYTicks.forEach(v => rich(ctx, [['10', 's'], [String(Math.round(Math.log10(v))), 's^']], 55, ys.getPixelForValue(v), { size: 15, subScale: 0.65, align: 'right', color: '#222' }));
      rich(ctx, [['Frequency '], ['f', 'i'], [' (Hz)']], 242.5, 363, { size: 21, w: 172, color: '#333' });
      rich(ctx, [['S'], ['I', '_'], ['/I'], ['2', '^'], [' × '], ['f', 'i']], 27, 158, { size: 18, w: 117, rot: -Math.PI / 2, color: '#333' });
      rich(ctx, [['c', 'b']], 25, 25, { size: 33, w: 23, align: 'left', base: true, color: '#222' });
    }
  }]
});
</script>
</body>
</html>
